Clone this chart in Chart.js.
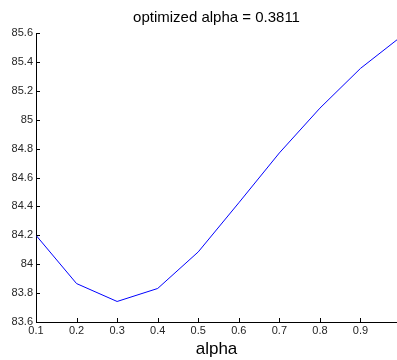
<!DOCTYPE html>
<html>
<head>
<meta charset="utf-8">
<script src="https://cdn.jsdelivr.net/npm/chart.js@4.4.0/dist/chart.umd.min.js"></script>
<style>
    html, body { margin: 0; padding: 0; background: #fff; overflow: hidden; }
    #wrap { width: 397px; height: 360px; }
</style>
</head>
<body>
<div id="wrap"><canvas id="chart" width="397" height="360"></canvas></div>
<script>
// --- Data ---
const alphaValues = [0.1, 0.2, 0.3, 0.4, 0.5, 0.6, 0.7, 0.8, 0.9, 1.0];
const accuracy = [84.2, 83.866, 83.742, 83.832, 84.085, 84.425, 84.77, 85.08, 85.355, 85.575];
const xTicks = [0.1, 0.2, 0.3, 0.4, 0.5, 0.6, 0.7, 0.8, 0.9];
const yTicks = [83.6, 83.8, 84, 84.2, 84.4, 84.6, 84.8, 85, 85.2, 85.4, 85.6];
const titleText = 'optimized alpha = 0.3811';
const xLabel = 'alpha';

const FONT = '"Liberation Sans", Arial, Helvetica, sans-serif';
const TICK_COLOR = '#262626';

// --- MATLAB style ticks pointing into the plot ---
const inwardTicks = {
    id: 'inwardTicks',
    afterDraw(chart) {
        const { ctx, chartArea, scales } = chart;
        ctx.save();
        ctx.strokeStyle = '#000';
        ctx.lineWidth = 1;
        ctx.beginPath();
        scales.x.ticks.forEach(t => {
            const px = Math.round(scales.x.getPixelForValue(t.value)) + 0.5;
            ctx.moveTo(px, chartArea.bottom);
            ctx.lineTo(px, chartArea.bottom - 4);
        });
        scales.y.ticks.forEach(t => {
            const py = Math.round(scales.y.getPixelForValue(t.value)) + 0.5;
            ctx.moveTo(chartArea.left, py);
            ctx.lineTo(chartArea.left + 4, py);
        });
        ctx.stroke();
        ctx.restore();
    }
};

const ctx = document.getElementById('chart').getContext('2d');
new Chart(ctx, {
    type: 'line',
    data: {
        datasets: [{
            data: alphaValues.map((a, i) => ({ x: a, y: accuracy[i] })),
            borderColor: '#0000ff',
            borderWidth: 1,
            pointRadius: 0,
            tension: 0,
            fill: false
        }]
    },
    options: {
        responsive: false,
        animation: false,
        layout: { padding: 0 },
        plugins: {
            legend: { display: false },
            tooltip: { enabled: false },
            title: {
                display: true,
                text: titleText,
                fullSize: false,
                color: '#000',
                font: { family: FONT, size: 15, weight: 'normal', lineHeight: 1.2 },
                padding: { top: 9, bottom: 6 }
            }
        },
        scales: {
            x: {
                type: 'linear',
                min: 0.1,
                max: 0.99,
                afterBuildTicks: scale => { scale.ticks = xTicks.map(v => ({ value: v })); },
                afterFit: scale => { scale.height = 38; },
                grid: { drawOnChartArea: false, drawTicks: false },
                border: { display: true, color: '#000', width: 1 },
                ticks: {
                    padding: 2,
                    color: TICK_COLOR,
                    font: { family: FONT, size: 11 },
                    maxRotation: 0,
                    autoSkip: false,
                    callback: v => v.toFixed(1)
                },
                title: {
                    display: true,
                    text: xLabel,
                    color: '#000',
                    font: { family: FONT, size: 17, lineHeight: 1.2 },
                    padding: { top: 0, bottom: 0 }
                }
            },
            y: {
                min: 83.6,
                max: 85.6,
                afterBuildTicks: scale => { scale.ticks = yTicks.map(v => ({ value: v })); },
                afterFit: scale => { scale.width = 36; },
                grid: { drawOnChartArea: false, drawTicks: false },
                border: { display: true, color: '#000', width: 1 },
                ticks: {
                    padding: 3,
                    color: TICK_COLOR,
                    font: { family: FONT, size: 11 },
                    autoSkip: false,
                    callback: v => String(Number(v.toFixed(1)))
                }
            }
        }
    },
    plugins: [inwardTicks]
});
</script>
</body>
</html>
